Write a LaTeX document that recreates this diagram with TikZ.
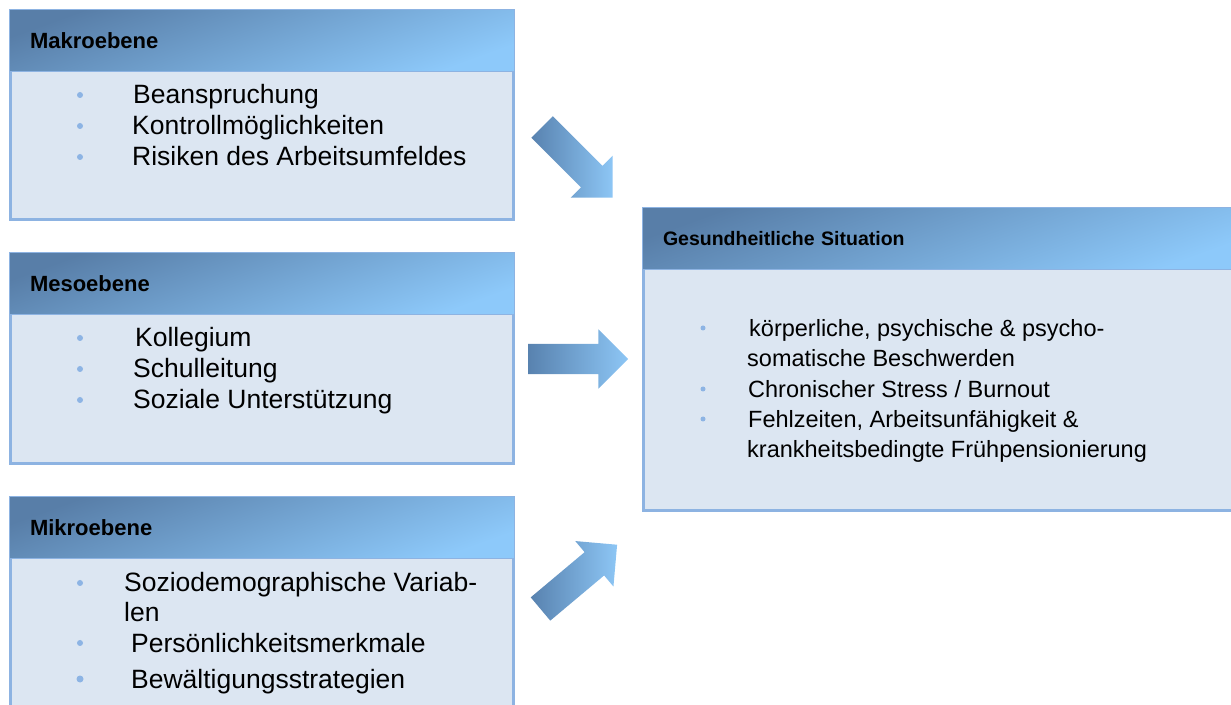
\documentclass[tikz,border=0pt]{standalone}
\usepackage{fontspec}
\setmainfont{Liberation Sans}
\usetikzlibrary{shapes.arrows}

\definecolor{framecol}{RGB}{141,179,226}
\definecolor{bodycol}{RGB}{220,230,242}
\definecolor{headdark}{RGB}{88,126,168}
\definecolor{headlight}{RGB}{141,201,250}
\definecolor{arrowdark}{RGB}{88,130,175}
\definecolor{arrowlight}{RGB}{141,198,245}
\definecolor{dotblue}{RGB}{141,180,228}

\tikzset{
  levelbox/.style={draw=framecol, line width=3pt, fill=bodycol, anchor=north west, inner sep=0pt},
  levelhead/.style={draw=framecol, line width=1pt, top color=headdark, bottom color=headlight,
    shading angle=20, anchor=north west, minimum height=62pt, inner xsep=20.5pt, inner ysep=0pt,
    align=left, font=\bfseries\fontsize{22}{26}\selectfont},
  entry/.style={anchor=base west, inner sep=0pt, font=\fontsize{26.5}{31}\selectfont},
  flowarrow/.style={single arrow, minimum height=100pt, inner xsep=0pt, inner ysep=15pt,
    single arrow head extend=14.5pt, outer sep=0pt,
    left color=arrowdark, right color=arrowlight, anchor=tail}
}

\begin{document}
\begin{tikzpicture}[x=1pt, y=1pt]
  \path[use as bounding box] (0,0) rectangle (1231,704);
  \clip (0,0) rectangle (1231,704);

  % the three levels
  \node[levelbox, minimum width=503pt, minimum height=209pt] (makro) at (9,695) {};
  \node[levelhead, text width=464pt] (makrohead) at (makro.north west) {Makroebene};
  \node[levelbox, minimum width=503pt, minimum height=210pt] (meso) at (9,452) {};
  \node[levelhead, text width=464pt] (mesohead) at (meso.north west) {Mesoebene};
  \node[levelbox, minimum width=503pt, minimum height=240pt] (mikro) at (9,208) {};
  \node[levelhead, text width=464pt] (mikrohead) at (mikro.north west) {Mikroebene};

  % outcome
  \node[levelbox, minimum width=600pt, minimum height=302pt] (situation) at (642,497) {};
  \node[levelhead, text width=561pt, font=\bfseries\fontsize{19.5}{24}\selectfont]
    (situationhead) at (situation.north west) {Gesundheitliche Situation};

  \node[entry] (makro1) at (133,600) {Beanspruchung};
  \node[entry] (makro2) at (132,569) {Kontrollmöglichkeiten};
  \node[entry] (makro3) at (132,538) {Risiken des Arbeitsumfeldes};

  \node[entry] (meso1) at (135,357) {Kollegium};
  \node[entry] (meso2) at (133,326) {Schulleitung};
  \node[entry] (meso3) at (133,295) {Soziale Unterstützung};

  \node[entry] (mikro1) at (124,112) {Soziodemographische Variab-};
  \node[entry] (mikro1b) at (124,82) {len};
  \node[entry] (mikro2) at (131,52) {Persönlichkeitsmerkmale};
  \node[entry] (mikro3) at (131,16) {Bewältigungsstrategien};

  \begin{scope}[entry/.append style={font=\fontsize{23.5}{30}\selectfont}]
    \node[entry] (sit1) at (749,367) {körperliche, psychische \& psycho-};
    \node[entry] (sit1b) at (747,337) {somatische Beschwerden};
    \node[entry] (sit2) at (748,306) {Chronischer Stress / Burnout};
    \node[entry] (sit3) at (748,276) {Fehlzeiten, Arbeitsunfähigkeit \&};
    \node[entry] (sit3b) at (747,246) {krankheitsbedingte Frühpensionierung};
  \end{scope}

  % bullets
  \foreach \y in {609,578,547,366,335,304,121,61}{
    \fill[dotblue] (80,\y) circle[radius=3pt];
  }
  \fill[dotblue] (80,25) circle[radius=3.5pt];
  \foreach \y in {376,315,285}{
    \fill[dotblue] (703,\y) circle[radius=2.5pt];
  }

  % arrows
  \node[flowarrow, rotate=-45] (arrowmakro) at (542,577) {};
  \node[flowarrow] (arrowmeso) at (528,345) {};
  \node[flowarrow, rotate=40] (arrowmikro) at (540.5,95) {};
\end{tikzpicture}
\end{document}
